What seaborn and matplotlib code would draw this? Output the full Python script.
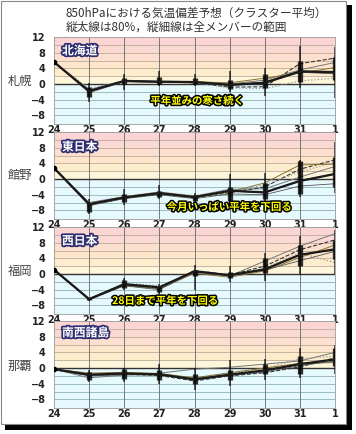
import matplotlib
matplotlib.use("Agg")
import matplotlib.pyplot as plt
import matplotlib.patheffects as pe
from matplotlib.patches import Rectangle
import seaborn as sns
import numpy as np

# days on the x axis
days = ["24", "25", "26", "27", "28", "29", "30", "31", "1"]
yticks = [12, 8, 4, 0, -4, -8]

cities = ["札幌", "館野", "福岡", "那覇"]
regions = ["北海道", "東日本", "西日本", "南西諸島"]
notes = ["平年並みの寒さ続く", "今月いっぱい平年を下回る", "28日まで平年を下回る", ""]

nan = np.nan

# cluster mean (thick line)
mean_sapporo = [5.6, -1.8, 0.8, 0.6, 0.5, -0.2, 0.3, 3.2, 3.0]
mean_tateno = [2.8, -6.4, -4.7, -3.6, -4.6, -3.0, -3.4, -0.5, 1.3]
mean_fukuoka = [1.1, -6.4, -2.6, -3.4, 0.7, -0.3, 1.2, 4.9, 6.3]
mean_naha = [-0.3, -1.7, -1.4, -1.6, -2.9, -1.7, -0.6, 1.0, 2.2]

# individual clusters
clusters_sapporo = [
    [5.6, -1.8, 0.8, 0.6, 0.5, -0.3, 0.5, 3.3, 3.2],
    [5.6, -1.5, 0.9, 0.7, 0.6, 0.0, 1.0, 3.6, 5.5],
    [5.6, -2.0, 0.7, 0.5, 0.3, -0.8, -0.7, 5.2, 6.6],
    [5.6, -1.2, 0.8, 0.6, 0.4, -1.0, -1.2, 0.8, 1.5],
    [5.6, -1.9, 0.8, 0.6, 0.6, 0.3, 1.5, 2.8, 4.2],
    [5.6, -2.2, 0.6, 0.4, 0.5, -0.4, 0.2, 3.0, 2.6],
]
clusters_tateno = [
    [2.8, -6.4, -4.7, -3.5, -4.6, -3.0, -3.5, -0.4, 1.3],
    [2.8, -6.0, -4.5, -3.3, -4.4, -2.6, -2.5, 0.5, 3.2],
    [2.8, -6.6, -4.9, -3.8, -4.8, -3.5, -2.0, 2.5, 4.9],
    [2.8, -6.2, -4.5, -3.4, -4.2, -3.2, -1.5, 1.8, 4.3],
    [2.8, -6.5, -4.8, -3.7, -4.7, -3.3, -1.0, 3.6, 3.8],
    [2.8, -6.8, -5.0, -4.0, -5.0, -3.8, -4.0, -1.8, -1.2],
]
clusters_fukuoka = [
    [1.1, -6.4, -2.6, -3.4, 0.7, -0.3, 1.2, 4.9, 6.3],
    [1.1, -6.3, -2.5, -3.2, 0.5, -0.5, 3.3, 7.1, 10.3],
    [1.1, -6.5, -2.8, -3.6, 0.9, -0.2, 2.0, 6.2, 8.7],
    [1.1, -6.4, -2.3, -3.0, 0.4, -0.6, 1.5, 5.4, 2.9],
    [1.1, -6.4, -2.9, -3.8, 0.2, -0.8, 0.8, 4.2, 7.4],
    [1.1, -6.6, -3.0, -4.0, 0.6, -0.4, 1.0, 3.4, 5.8],
]
clusters_naha = [
    [-0.3, -1.7, -1.4, -1.6, -2.9, -1.7, -0.6, 1.0, 2.2],
    [-0.3, -2.5, -1.8, -1.3, -0.3, 0.2, 1.0, 1.8, 4.0],
    [-0.3, -1.9, -1.6, -1.9, -3.3, -2.0, -1.2, 0.3, 2.6],
    [-0.3, -1.5, -1.2, -1.5, -2.6, -1.4, -0.2, 2.4, 3.0],
    [-0.3, -1.3, -1.1, -1.4, -2.5, -1.2, 0.0, 1.2, 1.4],
    [-0.3, -2.0, -1.7, -1.8, -3.1, -1.9, -1.0, 0.6, 1.8],
]

# 80% range (thick bars) and full member range (thin bars)
lo80_sapporo = [nan, -3.3, 0.0, 0.0, 0.0, -1.3, -1.0, 0.5, 1.0]
hi80_sapporo = [nan, -0.8, 1.5, 1.8, 1.5, 1.0, 2.5, 6.0, 7.0]
lo_sapporo = [nan, -4.5, -1.5, -0.5, -0.5, -2.0, -3.0, -1.0, -3.5]
hi_sapporo = [nan, 0.3, 2.5, 3.2, 2.5, 3.2, 4.0, 9.8, 9.5]

lo80_tateno = [nan, -8.5, -5.8, -4.6, -5.6, -5.5, -5.0, -3.8, -2.0]
hi80_tateno = [nan, -6.0, -3.7, -3.0, -4.0, -2.0, -1.0, 4.5, 5.5]
lo_tateno = [nan, -9.0, -6.5, -5.0, -6.5, -6.0, -6.0, -4.5, -3.5]
hi_tateno = [nan, -5.0, -2.5, -1.5, -3.5, 1.2, 1.5, 4.8, 9.5]

lo80_fukuoka = [nan, -6.7, -3.5, -4.5, -0.5, -1.0, 0.3, 2.1, 3.8]
hi80_fukuoka = [nan, -6.1, -1.5, -3.0, 1.0, 0.5, 4.2, 7.5, 8.8]
lo_fukuoka = [nan, -6.8, -4.0, -5.0, -4.0, -2.0, -1.8, 0.0, 0.0]
hi_fukuoka = [nan, -6.0, -1.0, -2.5, 2.3, 2.0, 5.3, 9.6, 11.3]

lo80_naha = [nan, -3.0, -2.8, -3.0, -4.0, -3.0, -1.5, -1.5, 0.5]
hi80_naha = [nan, -1.0, -0.3, -0.5, -1.5, -0.5, 1.0, 3.0, 5.0]
lo_naha = [nan, -3.5, -3.5, -4.0, -5.5, -4.5, -3.0, -2.5, -1.5]
hi_naha = [nan, -0.5, 0.0, 1.0, 0.0, 2.0, 2.3, 5.0, 6.0]

means = [mean_sapporo, mean_tateno, mean_fukuoka, mean_naha]
clusters = [clusters_sapporo, clusters_tateno, clusters_fukuoka, clusters_naha]
ranges = [
    (lo80_sapporo, hi80_sapporo, lo_sapporo, hi_sapporo),
    (lo80_tateno, hi80_tateno, lo_tateno, hi_tateno),
    (lo80_fukuoka, hi80_fukuoka, lo_fukuoka, hi_fukuoka),
    (lo80_naha, hi80_naha, lo_naha, hi_naha),
]

sns.set_theme(style="white")
plt.rcParams['font.family'] = ['Noto Sans CJK JP', 'DejaVu Sans']

W, H = 356, 434
fig = plt.figure(figsize=(W / 100, H / 100), dpi=100)


def fx(px):
    return px / W


def fy(py):
    return 1 - py / H


# frame with drop shadow (behind the axes)
fig.patches.append(Rectangle((fx(5), fy(430)), fx(347), 425 / H, transform=fig.transFigure,
                             facecolor="black", edgecolor="none", zorder=-2))
fig.patches.append(Rectangle((fx(1), fy(424)), fx(345), 423 / H, transform=fig.transFigure,
                             facecolor="white", edgecolor="#888888", lw=0.8, zorder=-1))

fig.text(fx(66), fy(13), "850hPaにおける気温偏差予想（クラスター平均）",
         ha="left", va="center", fontsize=8.4, color="#333333")
fig.text(fx(66), fy(27), "縦太線は80%，縦細線は全メンバーの範囲",
         ha="left", va="center", fontsize=8.4, color="#333333")

band_colors = [
    (10, 12, "#fbd4d4"), (8, 10, "#fbd9d3"), (6, 8, "#fcdfcf"),
    (4, 6, "#fde6cc"), (2, 4, "#feedcd"), (0, 2, "#fef6da"),
    (-10.3, 0, "#e6f9fc"),
]
cl_styles = [
    dict(color="#222222", ls="-", lw=0.8),
    dict(color="#777777", ls="-", lw=0.7),
    dict(color="#333333", ls="--", lw=0.8),
    dict(color="#999999", ls=":", lw=0.9),
    dict(color="#8a7030", ls="-", lw=0.7),
    dict(color="#555555", ls="-", lw=0.6),
]

tops = [37, 132, 227, 321]
label_y = [81, 176, 271, 366]
region_y = [51, 147, 241, 333]
note_pos = [(197, 101), (229, 207), (165, 301), None]
x = np.arange(len(days))

for i in range(4):
    top = tops[i]
    ax = fig.add_axes([fx(54), fy(top + 87), fx(281), 87 / H])
    ax.set_xlim(0, 8)
    ax.set_ylim(-10.2, 12)
    for lo, hi, c in band_colors:
        ax.axhspan(lo, hi, color=c, lw=0, zorder=0)
    for yv in range(-8, 12, 2):
        if yv == 0:
            continue
        ax.axhline(yv, color="#b8a595" if yv > 0 else "#86aaae", lw=0.55, zorder=1)
    ax.axhline(0, color="#333333", lw=1.0, zorder=2)
    for xv in x[1:-1]:
        ax.axvline(xv, color="#666666", lw=0.6, zorder=1)

    for vals, st in zip(clusters[i], cl_styles):
        ax.plot(x, vals, zorder=3, **st)

    lo80, hi80, lo, hi = ranges[i]
    ax.vlines(x, lo, hi, color="black", alpha=0.8, lw=1.1, zorder=4)
    ax.vlines(x, lo80, hi80, color="black", alpha=0.8, lw=3.8, zorder=4)

    sns.lineplot(x=x, y=means[i], ax=ax, color="#1a1a1a", lw=1.6, zorder=5)
    ax.plot(x[0], means[i][0], "o", color="black", ms=3, zorder=6)

    for s in ax.spines.values():
        s.set_color("#999999")
        s.set_linewidth(0.6)
    ax.set_yticks(yticks)
    ax.set_yticklabels([str(v).replace("-", "\u2212") for v in yticks],
                       fontsize=7, fontweight="bold", family="DejaVu Sans", color="#222222")
    ax.set_xticks(x)
    ax.set_xticklabels(days, fontsize=7, fontweight="bold", family="DejaVu Sans", color="#222222")
    ax.tick_params(axis="y", length=0, pad=6)
    ax.tick_params(axis="x", length=0, pad=0.8)
    ax.set_xlabel("")
    ax.set_ylabel("")

    fig.text(fx(20), fy(label_y[i]), cities[i], ha="center", va="center",
             fontsize=8.8, color="#444444")
    fig.text(fx(62), fy(region_y[i]), regions[i], ha="left", va="center",
             fontsize=8.5, fontweight="bold", color="white",
             path_effects=[pe.withStroke(linewidth=2.5, foreground="#2e2e70")])
    if note_pos[i] is not None:
        fig.text(fx(note_pos[i][0]), fy(note_pos[i][1]), notes[i], ha="center", va="center",
                 fontsize=7.5, fontweight="bold", color="#ffff00", zorder=10,
                 path_effects=[pe.withStroke(linewidth=2.2, foreground="black")])

fig.savefig("out.png", dpi=100)
